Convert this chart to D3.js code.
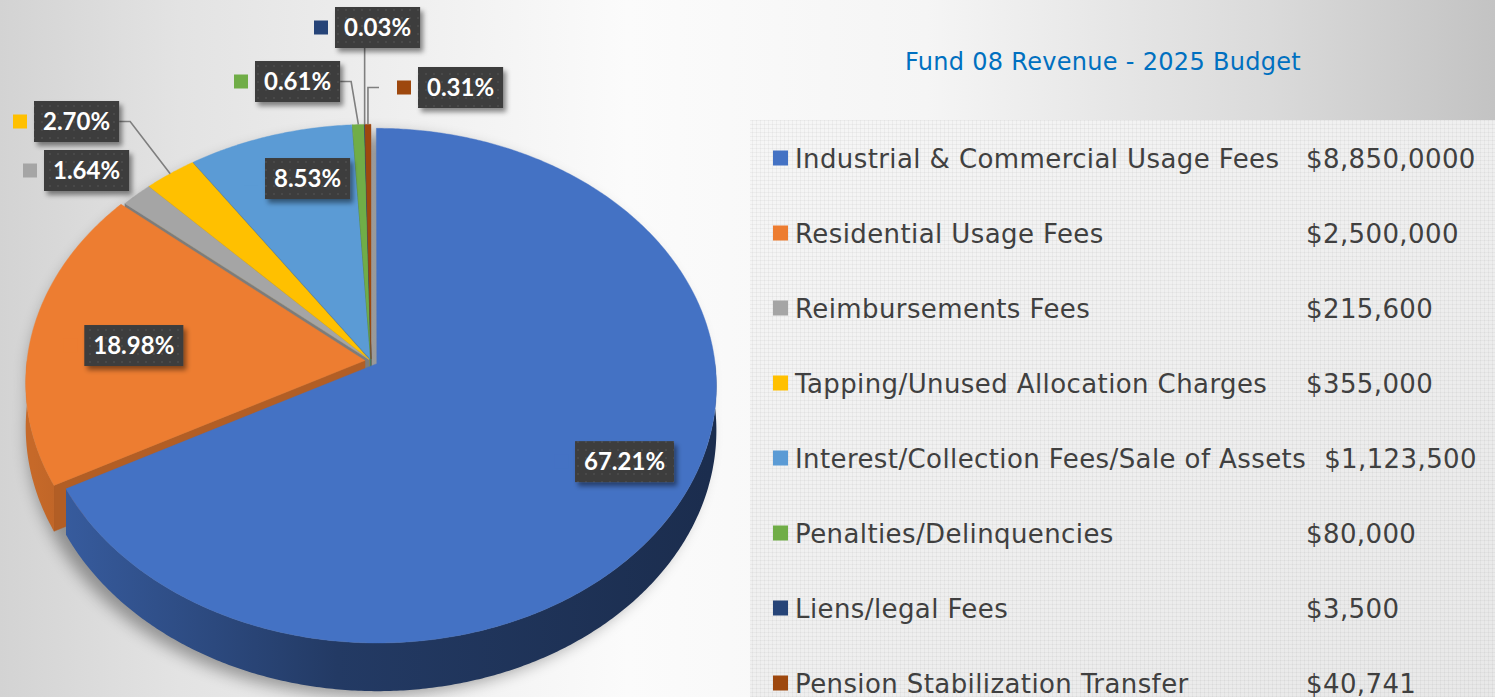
<!DOCTYPE html>
<html>
<head>
<meta charset="utf-8">
<script src="https://cdn.jsdelivr.net/npm/d3@7"></script>
<style>
  html, body { margin: 0; padding: 0; overflow: hidden; background: #fff; }
</style>
</head>
<body>
<svg id="chart" width="1495" height="697"></svg>
<script>
// ---- data ----
var title = "Fund 08 Revenue - 2025 Budget";
var categories = [
  "Industrial & Commercial Usage Fees",
  "Residential Usage Fees",
  "Reimbursements Fees",
  "Tapping/Unused Allocation Charges",
  "Interest/Collection Fees/Sale of Assets",
  "Penalties/Delinquencies",
  "Liens/legal Fees",
  "Pension Stabilization Transfer"
];
var amounts = [8850000, 2500000, 215600, 355000, 1123500, 80000, 3500, 40741];
var amountLabels = ["$8,850,0000", "$2,500,000", "$215,600", "$355,000", "$1,123,500", "$80,000", "$3,500", "$40,741"];
var colors = ["#4472C4", "#ED7D31", "#A5A5A5", "#FFC000", "#5B9BD5", "#70AD47", "#264478", "#9E480E"];

// ---- layout ----
var W = 1495, H = 697;
var cx = 371, cy = 361, kx = 338, ky = 255, persp = 0.0855, depth = 44;
var explode = [0.02, 0.018, 0.008, 0.008, 0.008, 0.008, 0.008, 0.008];
// inside labels: [radius, angle shift in degrees] from slice middle
var insideLabels = { 0: [0.80, -3.3], 1: [0.69, -1.2], 4: [0.78, 4.1] };
// outside labels: box top-left and leader style
var outsideLabels = {
  2: { box: [44, 150], leader: null },
  3: { box: [34, 101], leader: 'right' },
  5: { box: [255, 61], leader: 'right' },
  6: { box: [335, 7], leader: 'below' },
  7: { box: [418, 67], leader: 'left' }
};
var boxH = 41, keySize = 14, keyGap = 7;
var legendFont = '"DejaVu Sans", Verdana, sans-serif';

var svg = d3.select('#chart');
var defs = svg.append('defs');

// background
var bg = defs.append('linearGradient').attr('id', 'bgGrad')
  .attr('x1', 0).attr('x2', 1).attr('y1', 0).attr('y2', 0);
[[0, '#d3d3d3'], [0.12, '#e3e3e3'], [0.42, '#fbfbfb'], [0.62, '#f5f5f5'], [0.85, '#dadada'], [1, '#c3c3c3']]
  .forEach(function(s) { bg.append('stop').attr('offset', s[0]).attr('stop-color', s[1]); });

var pg = defs.append('linearGradient').attr('id', 'panelGrad')
  .attr('x1', 0).attr('x2', 1).attr('y1', 0).attr('y2', 1);
[[0, '#f6f6f6'], [1, '#e8e8e8']]
  .forEach(function(s) { pg.append('stop').attr('offset', s[0]).attr('stop-color', s[1]); });

var grid = defs.append('pattern').attr('id', 'grid')
  .attr('width', 4).attr('height', 4).attr('patternUnits', 'userSpaceOnUse');
grid.append('path').attr('d', 'M0 0.5H4M0.5 0V4')
  .attr('stroke', '#000').attr('stroke-opacity', 0.035).attr('fill', 'none');

var dots = defs.append('pattern').attr('id', 'dots')
  .attr('width', 8).attr('height', 8).attr('patternUnits', 'userSpaceOnUse');
dots.append('rect').attr('width', 8).attr('height', 8).attr('fill', '#3d3d3d');
dots.append('circle').attr('cx', 2).attr('cy', 2).attr('r', 0.8).attr('fill', '#585858');

var bs = defs.append('filter').attr('id', 'boxShadow')
  .attr('x', '-20%').attr('y', '-20%').attr('width', '150%').attr('height', '170%');
bs.append('feDropShadow').attr('dx', 3).attr('dy', 4).attr('stdDeviation', 2.5)
  .attr('flood-color', '#000').attr('flood-opacity', 0.45);

var ps = defs.append('filter').attr('id', 'pieShadow')
  .attr('x', '-20%').attr('y', '-20%').attr('width', '140%').attr('height', '140%');
ps.append('feGaussianBlur').attr('stdDeviation', 8);

svg.append('rect').attr('width', W).attr('height', H).attr('fill', 'url(#bgGrad)');
svg.append('rect').attr('x', 750).attr('y', 120).attr('width', W - 750).attr('height', H - 120)
  .attr('fill', 'url(#panelGrad)');
svg.append('rect').attr('x', 750).attr('y', 120).attr('width', W - 750).attr('height', H - 120)
  .attr('fill', 'url(#grid)');

// ---- pie geometry ----
function proj(U, V, z) {
  var s = 1 / (1 + persp * V);
  return [cx + kx * U * s, cy - ky * V * s + depth * z * s];
}

var pie = d3.pie().sort(null).value(function(d) { return d; });
var arcs = pie(amounts);
var line = d3.line();
var deg = Math.PI / 180;

arcs.forEach(function(a, i) {
  a.mid = (a.startAngle + a.endAngle) / 2;
  a.offU = Math.sin(a.mid) * explode[i];
  a.offV = Math.cos(a.mid) * explode[i];
  a.pt = function(ang, r, z) {
    return proj(a.offU + r * Math.sin(ang), a.offV + r * Math.cos(ang), z);
  };
  a.arcPts = function(a0, a1, z) {
    var n = Math.max(2, Math.ceil((a1 - a0) / (0.5 * deg)));
    return d3.range(n + 1).map(function(k) { return a.pt(a0 + (a1 - a0) * k / n, 1, z); });
  };
});

// soft shadow under the pie
var silhouette = d3.range(0, 361).map(function(k) {
  var ang = k * deg;
  var z = Math.cos(ang) < 0 ? 1 : 0;
  return proj(Math.sin(ang), Math.cos(ang), z);
});
svg.append('path').attr('d', line(silhouette) + 'Z')
  .attr('transform', 'translate(-4,8)')
  .attr('fill', '#000').attr('opacity', 0.35)
  .attr('filter', 'url(#pieShadow)');

var pieG = svg.append('g').attr('id', 'pie');

// cut faces (visible ones only)
var faces = [];
arcs.forEach(function(a, i) {
  [a.startAngle, a.endAngle].forEach(function(ang, k) {
    var vis = k === 0 ? Math.sin(ang) < -1e-6 : Math.sin(ang) > 1e-6;
    if (!vis) return;
    faces.push({ i: i, v: Math.cos(ang) * 0.5 + a.offV,
      pts: [a.pt(ang, 0, 0), a.pt(ang, 1, 0), a.pt(ang, 1, 1), a.pt(ang, 0, 1)] });
  });
});
faces.sort(function(p, q) { return q.v - p.v; });
pieG.append('g').selectAll('path').data(faces).enter().append('path')
  .attr('d', function(d) { return line(d.pts) + 'Z'; })
  .attr('fill', function(d) { return d3.color(colors[d.i]).darker(0.8); })
  .attr('stroke', function(d) { return d3.color(colors[d.i]).darker(0.8); })
  .attr('stroke-width', 0.5);

// outer walls on the near half
arcs.forEach(function(a, i) {
  var gr = defs.append('linearGradient').attr('id', 'wall' + i)
    .attr('gradientUnits', 'userSpaceOnUse')
    .attr('x1', cx - kx).attr('x2', cx + kx).attr('y1', 0).attr('y2', 0);
  var c = d3.color(colors[i]);
  [[0, c.darker(0.5)], [0.45, c.darker(1.9)], [1, c.darker(2.6)]].forEach(function(s) {
    gr.append('stop').attr('offset', s[0]).attr('stop-color', s[1]);
  });
});
var walls = [];
arcs.forEach(function(a, i) {
  var a0 = Math.max(a.startAngle, 90 * deg), a1 = Math.min(a.endAngle, 270 * deg);
  if (a1 <= a0) return;
  var top = a.arcPts(a0, a1, 0), bot = a.arcPts(a0, a1, 1).reverse();
  walls.push({ i: i, pts: top.concat(bot) });
});
pieG.append('g').selectAll('path').data(walls).enter().append('path')
  .attr('d', function(d) { return line(d.pts) + 'Z'; })
  .attr('fill', function(d) { return 'url(#wall' + d.i + ')'; });

// top faces
pieG.append('g').selectAll('path').data(arcs).enter().append('path')
  .attr('d', function(a) {
    return line([a.pt(a.startAngle, 0, 0)].concat(a.arcPts(a.startAngle, a.endAngle, 0))) + 'Z';
  })
  .attr('fill', function(a, i) { return colors[i]; })
  .attr('stroke', function(a, i) { return colors[i]; })
  .attr('stroke-width', 0.4);

// ---- data labels ----
var pct = d3.format('.2%');
var labelG = svg.append('g').attr('id', 'labels');

function drawLabel(i, bx, by, leader) {
  var a = arcs[i];
  var g = labelG.append('g');
  var t = g.append('text')
    .attr('font-family', 'Lato, "Open Sans", sans-serif')
    .attr('font-weight', 700)
    .attr('font-size', '24px')
    .attr('fill', '#fff')
    .attr('text-anchor', 'middle')
    .text(pct(a.value / d3.sum(amounts)));
  var tw = t.node().getComputedTextLength();
  var bw = tw + 18;
  if (bx === null) { bx = by[0] - bw / 2; by = by[1] - boxH / 2; }
  if (leader) {
    var sp = a.pt(a.mid, 1, 0), path;
    if (leader === 'right') {
      var at = [bx + bw, by + boxH / 2];
      path = [at, [at[0] + 11, at[1]], sp];
    } else if (leader === 'below') {
      path = [[sp[0], by + boxH], sp];
    } else {
      var ex = bx - keyGap - keySize - 18;
      path = [[ex, by + boxH / 2], [sp[0], by + boxH / 2], sp];
    }
    g.insert('path', 'text').attr('d', line(path))
      .attr('fill', 'none').attr('stroke', '#7f7f7f').attr('stroke-width', 1.6);
  }
  g.insert('rect', 'text').attr('x', bx).attr('y', by).attr('width', bw).attr('height', boxH)
    .attr('fill', 'url(#dots)').attr('filter', 'url(#boxShadow)');
  g.insert('rect', 'text').attr('x', bx - keyGap - keySize).attr('y', by + boxH / 2 - keySize / 2)
    .attr('width', keySize).attr('height', keySize).attr('fill', colors[i]);
  t.attr('x', bx + bw / 2).attr('y', by + boxH / 2 + 8.5);
}

Object.keys(insideLabels).forEach(function(k) {
  var i = +k, a = arcs[i], p = insideLabels[k];
  var c = a.pt(a.mid + p[1] * deg, p[0], 0);
  drawLabel(i, null, c, null);
});
Object.keys(outsideLabels).forEach(function(k) {
  var o = outsideLabels[k];
  drawLabel(+k, o.box[0], o.box[1], o.leader);
});

// ---- title ----
svg.append('text')
  .attr('x', 1103).attr('y', 70)
  .attr('text-anchor', 'middle')
  .attr('font-family', legendFont)
  .attr('font-size', '24px')
  .attr('letter-spacing', '0.3px')
  .attr('fill', '#0070C0')
  .text(title);

// ---- legend ----
var rowY = d3.scalePoint().domain(d3.range(categories.length)).range([158, 683]);
var legend = svg.append('g').attr('id', 'legend');
var rows = legend.selectAll('g').data(categories).enter().append('g')
  .attr('transform', function(d, i) { return 'translate(0,' + rowY(i) + ')'; });
rows.append('rect').attr('x', 773).attr('y', -7.5).attr('width', 15).attr('height', 15)
  .attr('fill', function(d, i) { return colors[i]; });
rows.append('text')
  .attr('x', 795).attr('y', 9.5)
  .attr('font-family', legendFont)
  .attr('font-size', '26px')
  .attr('letter-spacing', '0.4px')
  .attr('fill', '#404040')
  .text(function(d) { return d; })
  .each(function(d, i) {
    var end = 795 + this.getComputedTextLength();
    d3.select(this.parentNode).append('text')
      .attr('x', Math.max(1306, end + 18)).attr('y', 9.5)
      .attr('font-family', legendFont)
      .attr('font-size', '26px')
      .attr('letter-spacing', '0.4px')
      .attr('fill', '#404040')
      .text(amountLabels[i]);
  });
</script>
</body>
</html>
